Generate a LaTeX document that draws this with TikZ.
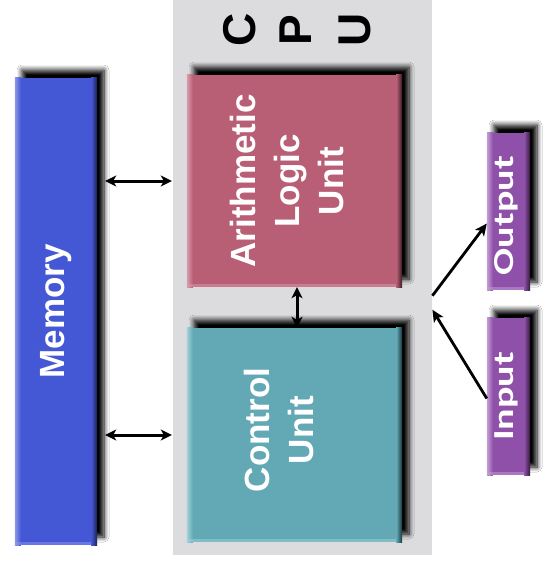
\documentclass[tikz,border=0pt]{standalone}
\usepackage{fontspec}
\usepackage{graphicx}
\setmainfont{Liberation Sans}
\newfontfamily\iofont{Carlito}
\usetikzlibrary{shadows.blur,arrows.meta}
\definecolor{cpugray}{HTML}{DCDBDE}
\definecolor{memblue}{HTML}{4457D4}
\definecolor{memlight}{HTML}{8C9AE8}
\definecolor{memdark}{HTML}{1A2150}
\definecolor{alured}{HTML}{B85F76}
\definecolor{alulight}{HTML}{DA9CAC}
\definecolor{aludark}{HTML}{3A1A22}
\definecolor{ctrlteal}{HTML}{62A9B5}
\definecolor{ctrllight}{HTML}{A2D2DA}
\definecolor{ctrldark}{HTML}{1A3438}
\definecolor{iopurple}{HTML}{8E50A8}
\definecolor{iolight}{HTML}{C4A0D4}
\definecolor{iodark}{HTML}{2E1838}
\newcommand\boxtext[1]{\rotatebox{90}{\begin{tabular}{@{}c@{}}#1\end{tabular}}}
\newcommand\iotext[1]{\rotatebox{90}{\scalebox{1.38}[1]{#1}}}
\tikzset{
  unitbox/.style={rectangle, inner sep=0pt, text=white,
    blur shadow={shadow xshift=7pt, shadow yshift=8pt, shadow blur radius=5pt, shadow opacity=100, shadow blur steps=8}},
  iobox/.style={unitbox, fill=iopurple, minimum width=43pt, minimum height=157pt},
  boxfont/.style={text=white, inner sep=0pt, font=\fontsize{35}{44}\selectfont\bfseries},
  iofontstyle/.style={text=white, inner sep=0pt, font=\iofont\fontsize{29}{29}\selectfont\bfseries},
  cpuletter/.style={rotate=90, inner sep=0pt, font=\fontsize{46}{46}\selectfont\bfseries},
  link/.style={line width=3pt, {Stealth[length=11pt,width=11pt,inset=3pt]}-{Stealth[length=11pt,width=11pt,inset=3pt]}},
  flow/.style={line width=2.8pt, -{Stealth[length=12pt,width=11pt,inset=3pt]}}
}
\newcommand\bevel[4]{% node, light, base, dark
  \fill[left color=#2, right color=#3] (#1.north west) rectangle ([xshift=6pt]#1.south west);
  \fill[left color=#3, right color=#4] ([xshift=-6pt]#1.north east) rectangle (#1.south east);
  \fill[#2, opacity=0.5] ([yshift=3pt]#1.south west) rectangle ([xshift=-6pt]#1.south east);
}
\begin{document}
\begin{tikzpicture}[x=1pt,y=-1pt]
\useasboundingbox[fill=white] (0,0) rectangle (545,566);
\node[fill=cpugray, inner sep=0pt, minimum width=259pt, minimum height=555pt, anchor=north west] (cpu) at (173,0) {};
\node[cpuletter] (cpuC) at (240,30) {C};
\node[cpuletter] (cpuP) at (296,30) {P};
\node[cpuletter] (cpuU) at (355,30) {U};

\node[unitbox, fill=memblue, minimum width=82pt, minimum height=467pt] (mem) at (56,311.5) {};
\bevel{mem}{memlight}{memblue}{memdark}
\node[boxfont] (memtext) at (mem.center) {\boxtext{Memory}};

\node[unitbox, fill=alured, minimum width=215pt, minimum height=212pt] (alu) at (294.5,181) {};
\bevel{alu}{alulight}{alured}{aludark}
\node[boxfont] (alutext) at ([xshift=-4pt]alu.center) {\boxtext{Arithmetic\\Logic\\Unit}};

\node[unitbox, fill=ctrlteal, minimum width=215pt, minimum height=214pt] (ctrl) at (294.5,435) {};
\bevel{ctrl}{ctrllight}{ctrlteal}{ctrldark}
\node[boxfont] (ctrltext) at ([xshift=-12pt,yshift=5pt]ctrl.center) {\boxtext{Control\\Unit}};

\node[iobox] (out) at (508.5,211.5) {};
\bevel{out}{iolight}{iopurple}{iodark}
\node[iofontstyle] (outtext) at ([xshift=-2pt,yshift=-4pt]out.center) {\iotext{Output}};

\node[iobox] (inp) at (508.5,396.5) {};
\bevel{inp}{iolight}{iopurple}{iodark}
\node[iofontstyle] (inptext) at ([xshift=-2pt]inp.center) {\iotext{Input}};

\draw[link] ([xshift=8pt]mem.east |- alu.west) -- ([xshift=-15pt]alu.west);
\draw[link] ([xshift=8pt]mem.east |- ctrl.west) -- ([xshift=-15pt]ctrl.west);
\draw[link] ([xshift=2.5pt]alu.south) -- ([xshift=2.5pt]ctrl.north);
\draw[flow] ([yshift=-18pt]cpu.east) -- ([yshift=-12pt]out.west);
\draw[flow] ([yshift=-2pt]inp.west) -- ([yshift=-32pt]cpu.east);
\end{tikzpicture}
\end{document}
